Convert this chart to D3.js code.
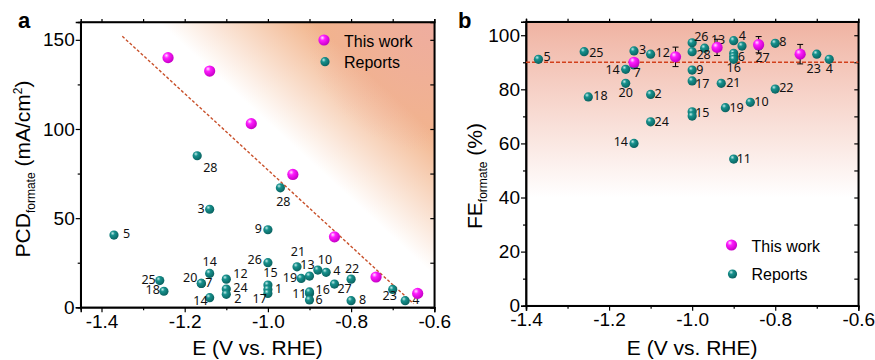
<!DOCTYPE html>
<html>
<head>
<meta charset="utf-8">
<script src="https://cdn.jsdelivr.net/npm/d3@7"></script>
<style>
  body { margin: 0; background: #fff; }
  svg text { font-family: "Liberation Sans", Arial, sans-serif; }
  .num { font-family: "Noto Sans", sans-serif; font-size: 12.5px; fill: #111; }
</style>
</head>
<body>
<div class="chart"></div>
<script>
// ---- data ----
// panel a: partial current density of formate vs potential
var aThisE   = [-1.24, -1.14, -1.04, -0.94, -0.84, -0.74, -0.64];
var aThisPCD = [140, 132.5, 103, 74.5, 39.5, 17, 7.8];

var aRepE   = [-1.37, -1.26, -1.25, -1.17, -0.97, -1.14, -1.00, -1.00, -0.93, -0.90, -0.92, -0.88, -0.86, -0.80, -0.84, -0.80, -0.70, -0.67, -0.90, -0.90, -0.90, -1.00, -1.00, -1.00, -1.14, -1.10, -1.16, -1.16, -1.10, -1.10, -1.14];
var aRepPCD = [40.5, 15, 9, 85, 67, 55, 43.5, 25, 22.7, 17.5, 16.2, 20.9, 19.6, 15.8, 13, 3.7, 10, 3.7, 7.8, 8.6, 4.1, 12.5, 10, 7.8, 19, 15.8, 13.4, 13.4, 10.2, 7.3, 5.4];
var aRepRef = ["5", "25", "18", "28", "28", "3", "9", "26", "21", "13", "19", "10", "4", "22", "27", "8", "23", "4", "11", "16", "6", "15", "1", "17", "14", "12", "20", "7", "24", "2", "14"];

// guide line in panel a
var aLineE   = [-1.35, -0.65];
var aLinePCD = [152, 2];

// panel b: faradaic efficiency of formate vs potential
var bThisE   = [-1.14, -1.04, -0.94, -0.84, -0.74];
var bThisFE  = [90, 92, 95.5, 96.5, 93];
var bThisErr = [1, 3.6, 3, 3, 3.6];

var bRepE  = [-1.37, -1.26, -1.25, -1.14, -1.16, -1.14, -1.16, -1.14, -1.10, -1.10, -1.10, -1.00, -1.00, -0.97, -1.00, -1.00, -1.00, -1.00, -0.93, -0.92, -0.94, -0.90, -0.88, -0.90, -0.90, -0.90, -0.90, -0.86, -0.84, -0.80, -0.80, -0.70, -0.67];
var bRepFE = [91.1, 93.9, 77.2, 94.2, 87.4, 89, 82.2, 60, 93, 78.1, 68, 97.2, 93.9, 95.2, 87.1, 83.1, 71.7, 70.1, 82.2, 73.2, 95.5, 98.0, 96.0, 93.3, 92.1, 91.1, 54.2, 75.2, 96, 97.0, 80.1, 93.0, 91.1];
var bRepRef = ["5", "25", "18", "3", "14", "7", "20", "14", "12", "2", "24", "26", "", "28", "9", "17", "15", "", "21", "19", "13", "4", "", "", "6", "16", "11", "10", "27", "8", "22", "23", "4"];

var bRefLine = 90;

var xTicksA = [-1.4, -1.2, -1.0, -0.8, -0.6];
var yTicksA = [0, 50, 100, 150];
var xTicksB = [-1.4, -1.2, -1.0, -0.8, -0.6];
var yTicksB = [0, 20, 40, 60, 80, 100];

// label placement for the reference numbers [dx, dy, anchor]
var aLabelPos = [[9,3,"start"],[-4,3,"end"],[-4,3,"end"],[6,16,"start"],[3,18,"middle"],[-5,4,"end"],[-6,3,"end"],[-6,1,"end"],[1,-11,"middle"],[-2,-7.5,"middle"],[-4,4,"end"],[0,-6,"start"],[7,3,"start"],[1,-6,"middle"],[3,9,"start"],[8,3,"start"],[-3,11,"middle"],[7,3,"start"],[-3,5,"end"],[6,2,"start"],[6,4,"start"],[2.5,-8,"middle"],[7,4,"start"],[-1,10,"end"],[0,-7,"middle"],[7,-1,"start"],[-4,-1,"end"],[4,4,"start"],[7,2.5,"start"],[8,9,"start"],[-2,7,"end"]];
var bLabelPos = [[5,2,"start"],[5,5,"start"],[5,3,"start"],[5,3,"start"],[-6,5,"end"],[3,12,"middle"],[0,14,"middle"],[-6,3,"end"],[5,3,"start"],[4,4,"start"],[4,4,"start"],[2,-2,"start"],[0,0,"start"],[-1,11,"middle"],[4,4,"start"],[3,7,"start"],[3,5,"start"],[0,0,"start"],[5,4,"start"],[4,4,"start"],[1,-3,"middle"],[5,-1,"start"],[0,0,"start"],[0,0,"start"],[4,4,"start"],[0,13,"middle"],[3,4,"start"],[4,4,"start"],[4,16,"middle"],[4,3,"start"],[4,3,"start"],[-3,19,"middle"],[0,14,"middle"]];

// ---- svg ----
var svgWidth = 875;
var svgHeight = 360;

var svg = d3.select(".chart")
  .append("svg")
  .attr("width", svgWidth)
  .attr("height", svgHeight);

var defs = svg.append("defs");

// sphere-like marker fills
function sphere(id, c0, c1, c2) {
  var g = defs.append("radialGradient").attr("id", id)
    .attr("cx", "38%").attr("cy", "35%").attr("r", "65%")
    .attr("fx", "35%").attr("fy", "30%");
  g.append("stop").attr("offset", "0%").attr("stop-color", c0);
  g.append("stop").attr("offset", "35%").attr("stop-color", c1);
  g.append("stop").attr("offset", "100%").attr("stop-color", c2);
}
sphere("tealBall", "#c4ecea", "#17918d", "#0a6361");
sphere("pinkBall", "#ffe4ff", "#ff1cff", "#c600c6");

// scales
var xA = d3.scaleLinear().domain([-1.45, -0.6]).range([80.7, 434.3]);
var yA = d3.scaleLinear().domain([0, 160]).range([307.3, 22]);
var xB = d3.scaleLinear().domain([-1.4, -0.6]).range([526, 858.3]);
var yB = d3.scaleLinear().domain([0, 105]).range([305.7, 21.7]);

// plain hyphen minus like the reference
var fmt1 = d => d.toFixed(1);

// ---- panel a background gradient, perpendicular to the guide line ----
var p0 = [xA(aLineE[0]), yA(aLinePCD[0])];
var p1 = [xA(aLineE[1]), yA(aLinePCD[1])];
var dx = p1[0] - p0[0], dy = p1[1] - p0[1];
var len = Math.sqrt(dx * dx + dy * dy);
var nx = dy / len, ny = -dx / len;   // normal toward upper right
var mid = [(p0[0] + p1[0]) / 2, (p0[1] + p1[1]) / 2];

var gA = defs.append("linearGradient").attr("id", "bgA")
  .attr("gradientUnits", "userSpaceOnUse")
  .attr("x1", mid[0] + nx * 35).attr("y1", mid[1] + ny * 35)
  .attr("x2", mid[0] + nx * 140).attr("y2", mid[1] + ny * 140);
gA.append("stop").attr("offset", "0%").attr("stop-color", "#ffffff");
gA.append("stop").attr("offset", "100%").attr("stop-color", "#f2b48b");

var gA2 = defs.append("radialGradient").attr("id", "bgA2")
  .attr("gradientUnits", "userSpaceOnUse")
  .attr("cx", xA(-0.6)).attr("cy", yA(160)).attr("r", 130);
gA2.append("stop").attr("offset", "0%").attr("stop-color", "#eeaca2").attr("stop-opacity", 0.9);
gA2.append("stop").attr("offset", "100%").attr("stop-color", "#eeaca2").attr("stop-opacity", 0);

var gB = defs.append("linearGradient").attr("id", "bgB")
  .attr("x1", 0).attr("y1", 0).attr("x2", 0).attr("y2", 1);
gB.append("stop").attr("offset", "0%").attr("stop-color", "#f0b3a2");
gB.append("stop").attr("offset", "62%").attr("stop-color", "#ffffff");

svg.append("rect")
  .attr("x", xA(-1.45)).attr("y", yA(160))
  .attr("width", xA(-0.6) - xA(-1.45)).attr("height", yA(0) - yA(160))
  .attr("fill", "url(#bgA)");
svg.append("rect")
  .attr("x", xA(-1.45)).attr("y", yA(160))
  .attr("width", xA(-0.6) - xA(-1.45)).attr("height", yA(0) - yA(160))
  .attr("fill", "url(#bgA2)");
svg.append("rect")
  .attr("x", xB(-1.4)).attr("y", yB(105))
  .attr("width", xB(-0.6) - xB(-1.4)).attr("height", yB(0) - yB(105))
  .attr("fill", "url(#bgB)");

// ---- axes ----
function styleAxis(g, size) {
  g.select(".domain").attr("stroke", "#000").attr("stroke-width", 1.5);
  g.selectAll(".tick line").attr("stroke", "#000").attr("stroke-width", 1.2);
  g.selectAll("text").attr("font-size", size).attr("fill", "#000")
    .style("font-family", "'Liberation Sans', Arial, sans-serif");
}

function drawFrame(x, y, xTicks, yTicks, xMinor, yMinor) {
  var x0 = x.range()[0], x1 = x.range()[1];
  var y0 = y.range()[0], y1 = y.range()[1];

  // minor ticks first
  svg.append("g").attr("transform", `translate(0, ${y0})`)
    .call(d3.axisBottom(x).tickValues(xMinor).tickSize(3).tickFormat(""))
    .call(g => styleAxis(g, 0));
  svg.append("g").attr("transform", `translate(${x0}, 0)`)
    .call(d3.axisLeft(y).tickValues(yMinor).tickSize(3).tickFormat(""))
    .call(g => styleAxis(g, 0));
  svg.append("g").attr("transform", `translate(${x1}, 0)`)
    .call(d3.axisLeft(y).tickValues(yTicks.concat(yMinor)).tickSize(4).tickFormat(""))
    .call(g => styleAxis(g, 0));
  svg.append("g").attr("transform", `translate(0, ${y1})`)
    .call(d3.axisTop(x).tickValues(xTicks.concat(xMinor)).tickSize(3).tickFormat(""))
    .call(g => styleAxis(g, 0));

  svg.append("g").attr("transform", `translate(0, ${y0})`)
    .call(d3.axisBottom(x).tickValues(xTicks).tickSize(5).tickPadding(2).tickFormat(fmt1))
    .call(g => styleAxis(g, 19));
  svg.append("g").attr("transform", `translate(${x0}, 0)`)
    .call(d3.axisLeft(y).tickValues(yTicks).tickSize(5).tickPadding(1))
    .call(g => styleAxis(g, 19));

  svg.append("rect")
    .attr("x", x0).attr("y", y1)
    .attr("width", x1 - x0).attr("height", y0 - y1)
    .attr("fill", "none").attr("stroke", "#000").attr("stroke-width", 1.5);
}

drawFrame(xA, yA, xTicksA, yTicksA, [-1.3, -1.1, -0.9, -0.7], [25, 75, 125]);
drawFrame(xB, yB, xTicksB, yTicksB, [-1.3, -1.1, -0.9, -0.7], [10, 30, 50, 70, 90]);

// ---- panel a marks ----
svg.append("line")
  .attr("x1", xA(aLineE[0])).attr("y1", yA(aLinePCD[0]))
  .attr("x2", xA(aLineE[1])).attr("y2", yA(aLinePCD[1]))
  .attr("stroke", "#c8502a").attr("stroke-width", 1.4)
  .attr("stroke-dasharray", "3,2");

svg.append("g").selectAll("circle")
  .data(aRepE)
  .enter()
  .append("circle")
  .attr("cx", d => xA(d))
  .attr("cy", (d, i) => yA(aRepPCD[i]))
  .attr("r", 4.6)
  .attr("fill", "url(#tealBall)");

svg.append("g").selectAll("text")
  .data(aRepRef)
  .enter()
  .append("text")
  .attr("class", "num")
  .attr("x", (d, i) => xA(aRepE[i]) + aLabelPos[i][0])
  .attr("y", (d, i) => yA(aRepPCD[i]) + aLabelPos[i][1])
  .attr("text-anchor", (d, i) => aLabelPos[i][2])
  .text(d => d);

svg.append("g").selectAll("circle")
  .data(aThisE)
  .enter()
  .append("circle")
  .attr("cx", d => xA(d))
  .attr("cy", (d, i) => yA(aThisPCD[i]))
  .attr("r", 5.6)
  .attr("fill", "url(#pinkBall)");

// ---- panel b marks ----
svg.append("line")
  .attr("x1", xB(-1.4)).attr("x2", xB(-0.6))
  .attr("y1", yB(bRefLine)).attr("y2", yB(bRefLine))
  .attr("stroke", "#d2401c").attr("stroke-width", 1.6)
  .attr("stroke-dasharray", "4,2");

svg.append("g").selectAll("circle")
  .data(bRepE)
  .enter()
  .append("circle")
  .attr("cx", d => xB(d))
  .attr("cy", (d, i) => yB(bRepFE[i]))
  .attr("r", 4.6)
  .attr("fill", "url(#tealBall)");

svg.append("g").selectAll("text")
  .data(bRepRef)
  .enter()
  .append("text")
  .attr("class", "num")
  .attr("x", (d, i) => xB(bRepE[i]) + bLabelPos[i][0])
  .attr("y", (d, i) => yB(bRepFE[i]) + bLabelPos[i][1])
  .attr("text-anchor", (d, i) => bLabelPos[i][2])
  .text(d => d);

// error bars
var errG = svg.append("g").attr("stroke", "#000").attr("stroke-width", 1);
bThisE.forEach(function(e, i) {
  var cx = xB(e);
  var top = yB(bThisFE[i] + bThisErr[i]);
  var bot = yB(bThisFE[i] - bThisErr[i]);
  errG.append("line").attr("x1", cx).attr("x2", cx).attr("y1", top).attr("y2", bot);
  errG.append("line").attr("x1", cx - 3).attr("x2", cx + 3).attr("y1", top).attr("y2", top);
  errG.append("line").attr("x1", cx - 3).attr("x2", cx + 3).attr("y1", bot).attr("y2", bot);
});

svg.append("g").selectAll("circle")
  .data(bThisE)
  .enter()
  .append("circle")
  .attr("cx", d => xB(d))
  .attr("cy", (d, i) => yB(bThisFE[i]))
  .attr("r", 5.6)
  .attr("fill", "url(#pinkBall)");

// ---- legends ----
function legend(x, y1, y2) {
  svg.append("circle").attr("cx", x).attr("cy", y1).attr("r", 5.6).attr("fill", "url(#pinkBall)");
  svg.append("circle").attr("cx", x + 1).attr("cy", y2).attr("r", 4.6).attr("fill", "url(#tealBall)");
  svg.append("text").attr("x", x + 20).attr("y", y1 + 6.5).attr("font-size", 16).text("This work");
  svg.append("text").attr("x", x + 20).attr("y", y2 + 6.3).attr("font-size", 16).text("Reports");
}
legend(324, 40, 61.7);
legend(731.5, 245, 274);

// ---- titles ----
svg.append("text").attr("x", xA(-1.025)).attr("y", 355)
  .attr("text-anchor", "middle").attr("font-size", 21).text("E (V vs. RHE)");
svg.append("text").attr("x", xB(-1.0)).attr("y", 355)
  .attr("text-anchor", "middle").attr("font-size", 21).text("E (V vs. RHE)");

var tA = svg.append("text")
  .attr("transform", "translate(30, 169) rotate(-90)")
  .attr("text-anchor", "middle").attr("font-size", 21);
tA.append("tspan").text("PCD");
tA.append("tspan").attr("font-size", 12).attr("dy", 5).text("formate");
tA.append("tspan").attr("dy", -5).text(" (mA/cm");
tA.append("tspan").attr("font-size", 12).attr("dy", -8).text("2");
tA.append("tspan").attr("dy", 8).text(")");

var tB = svg.append("text")
  .attr("transform", "translate(482, 176) rotate(-90)")
  .attr("text-anchor", "middle").attr("font-size", 21);
tB.append("tspan").text("FE");
tB.append("tspan").attr("font-size", 12).attr("dy", 5).text("formate");
tB.append("tspan").attr("dy", -5).text(" (%)");

svg.append("text").attr("x", 18).attr("y", 28)
  .attr("font-size", 22).attr("font-weight", "bold").text("a");
svg.append("text").attr("x", 458).attr("y", 28)
  .attr("font-size", 22).attr("font-weight", "bold").text("b");
</script>
</body>
</html>
